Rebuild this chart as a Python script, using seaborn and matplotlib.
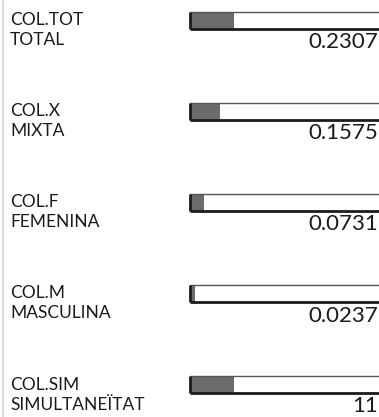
import matplotlib
matplotlib.use("Agg")
import matplotlib.pyplot as plt
from matplotlib.lines import Line2D
import seaborn as sns
import pandas as pd

# Indicator codes, descriptions, displayed values and bar fill fractions
codes = ["COL.TOT", "COL.X", "COL.F", "COL.M", "COL.SIM"]
names = ["TOTAL", "MIXTA", "FEMENINA", "MASCULINA", "SIMULTANEÏTAT"]
values = [0.2307, 0.1575, 0.0731, 0.0237, 11]
value_labels = ["0.2307", "0.1575", "0.0731", "0.0237", "11"]
scale_max = [1, 1, 1, 1, 48]

df = pd.DataFrame({
    "code": codes,
    "frac": [v / m for v, m in zip(values, scale_max)],
    "full": [1.0] * len(codes),
})

sns.set_theme(style="white")
plt.rcParams["font.family"] = ["Lato", "DejaVu Sans"]

W, H = 379, 417
fig = plt.figure(figsize=(W / 100, H / 100), dpi=100)

row = 91.0          # vertical pitch of one row, px
top_center = 20.5   # centre of first bar, px from top
x0, x1 = 190, 382   # horizontal extent of the bar track, px
ax_top = top_center - row / 2
ax_h = row * len(codes)
ax = fig.add_axes([x0 / W, 1 - (ax_top + ax_h) / H, (x1 - x0) / W, ax_h / H])

bar_h = 17 / row
sns.barplot(data=df, x="full", y="code", orient="h", color="white",
            width=bar_h, ax=ax, linewidth=0, saturation=1)
sns.barplot(data=df, x="frac", y="code", orient="h", color="#6b6b6b",
            width=bar_h, ax=ax, linewidth=0, saturation=1)
ax.set_xlim(0, 1)
ax.set_ylim(len(codes) - 0.5, -0.5)
ax.set_axis_off()

# Track borders: thin top, heavier bottom and left edge
for p in ax.patches[:len(codes)]:
    x, y, w, h = p.get_x(), p.get_y(), p.get_width(), p.get_height()
    ax.plot([x, x + w], [y, y], color="#555555", lw=1.0, solid_capstyle="butt", clip_on=False)
    ax.plot([x, x + w], [y + h, y + h], color="#1c1c1c", lw=2.0, solid_capstyle="butt", clip_on=False)
    ax.plot([x, x], [y, y + h], color="#1c1c1c", lw=2.0, solid_capstyle="butt", clip_on=False)

trans = (fig.transFigure, ax.transData)
for i, (c, n, vl) in enumerate(zip(codes, names, value_labels)):
    ax.annotate(c, xy=(10 / W, i), xycoords=trans, xytext=(0, 0),
                textcoords="offset pixels", ha="left", va="center",
                fontsize=12.5, color="#1a1a1a", annotation_clip=False)
    ax.annotate(n, xy=(10 / W, i), xycoords=trans, xytext=(0, -20),
                textcoords="offset pixels", ha="left", va="center",
                fontsize=12.5, color="#1a1a1a", annotation_clip=False)
    ax.annotate(vl, xy=(378 / W, i), xycoords=trans, xytext=(0, -22),
                textcoords="offset pixels", ha="right", va="center",
                fontsize=16, color="#1a1a1a", annotation_clip=False)

# Light rule along the left edge
fig.add_artist(Line2D([2.5 / W, 2.5 / W], [0, 1], transform=fig.transFigure,
                      color="#d4d4d4", lw=1.2))

fig.savefig("out.png", dpi=100, facecolor="white")
